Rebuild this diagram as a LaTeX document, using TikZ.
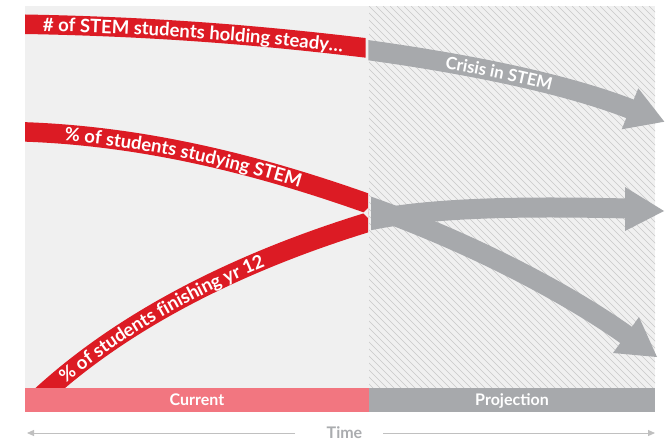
\documentclass[tikz,border=0pt]{standalone}
\usepackage{fontspec}
\setmainfont{Lato}
\usetikzlibrary{decorations.text,arrows.meta}
\definecolor{bandred}{RGB}{220,27,36}
\definecolor{pinkbar}{RGB}{242,118,128}
\definecolor{grayarrow}{RGB}{167,169,172}
\definecolor{panelbg}{RGB}{240,240,240}
\definecolor{hatchgray}{RGB}{200,200,200}
\definecolor{timegray}{RGB}{170,172,175}
\definecolor{timeline}{RGB}{192,192,192}
\newcommand\bandfont{\fontsize{18.5}{18.5}\selectfont\bfseries}
\newcommand\crisisfont{\fontsize{17}{17}\selectfont\bfseries}
\begin{document}
\begin{tikzpicture}[x=1pt,y=1pt,
  redband/.style={draw=bandred, line width=19.5pt, line cap=butt},
  grayshaft/.style={draw=grayarrow, line width=20pt, line cap=butt},
  grayhead/.style={fill=grayarrow},
  barlabel/.style={inner sep=0pt, text=white, font=\fontsize{16}{16}\selectfont\bfseries, text height=11.5pt, text depth=0pt},
  timetext/.style={inner sep=0pt, text=timegray, font=\fontsize{16}{16}\selectfont\bfseries, text height=11.5pt, text depth=0pt},
  timeaxis/.style={draw=timeline, line width=1pt, -{Triangle[length=7pt,width=6pt]}}
]
\useasboundingbox (0,0) rectangle (671,-442);
\fill[white] (0,0) rectangle (671,-442);
% panels
\fill[panelbg] (25,-6) rectangle (655,-388);
\begin{scope}
  \clip (369,-6) rectangle (655,-388);
  \foreach \k in {0,...,100} {
    \draw[hatchgray, line width=0.5pt] ({369-385+7*\k},-6) -- ({369+7*\k},-391);
  }
\end{scope}

% red band 1
\begin{scope}
  \clip (25,-6) rectangle (365.5,-388);
  \draw[redband] (10,-24) .. controls (150,-26) and (260,-35) .. (375,-49);
  \path[decorate, decoration={text along path, raise=-6.7pt, text align={left indent=33pt},
    text={|\bandfont\color{white}|{\#} of STEM students holding steady{…}}}]
    (10,-24) .. controls (150,-26) and (260,-35) .. (375,-49);
\end{scope}

% red bands 2 and 3
\begin{scope}
  \clip (25,-6) rectangle (368,-388);
  \draw[redband] (10,-131.5) .. controls (140,-134) and (260,-165) .. (372,-205);
  \draw[redband] (39,-398) .. controls (134,-310) and (260,-255) .. (372,-221);
  \fill[panelbg] (363,-213) -- (368.5,-207.5) -- (368.5,-218.5) -- cycle;
  \path[decorate, decoration={text along path, raise=-6.7pt, text align={left indent=55pt},
    text={|\bandfont\color{white}|{\%} of students studying STEM}}]
    (10,-131.5) .. controls (140,-134) and (260,-165) .. (372,-205);
  \path[decorate, decoration={text along path, raise=-6.7pt, text align={left indent=30pt},
    text={|\bandfont\color{white}|{\%} of students finishing yr 12}}]
    (39,-398) .. controls (134,-310) and (260,-255) .. (372,-221);
\end{scope}

% gray arrow 1 (crisis)
\begin{scope}
  \clip (368.3,-6) rectangle (671,-442);
  \draw[grayshaft] (350,-47.7) .. controls (500,-67.5) and (585,-91) .. (633,-110);
  \path[decorate, decoration={text along path, raise=-6.3pt, text align={left indent=97pt},
    text={|\crisisfont\color{white}|Crisis in STEM}}]
    (350,-47.7) .. controls (500,-67.5) and (585,-91) .. (633,-110);
\end{scope}
\fill[grayhead] (621.7,-129.3) -- (638.3,-88.3) -- (664.3,-121.7) -- cycle;

% gray arrows A and B
\begin{scope}
  \clip (371,-6) rectangle (671,-442);
  \draw[grayshaft] (350,-225) .. controls (415,-207) and (520,-206) .. (628,-208.5);
  \draw[grayshaft] (350,-200) .. controls (450,-233) and (560,-287.5) .. (629,-337);
\end{scope}
\fill[grayhead] (625,-187) -- (625,-231) -- (664,-211) -- cycle;
\fill[grayhead] (613,-353) -- (639,-317) -- (657,-357) -- cycle;

% bottom bars
\fill[pinkbar] (25,-388) rectangle (369,-412);
\fill[grayarrow] (369,-388) rectangle (655,-412);
\node[barlabel] (current) at (197,-400) {Current};
\node[barlabel] (projection) at (512,-400) {Projection};

% time axis
\node[timetext] (time) at (344.5,-432.5) {Time};
\coordinate (tlstart) at (295,-433);
\coordinate (tlend) at (27,-433);
\coordinate (trstart) at (383,-433);
\coordinate (trend) at (655,-433);
\draw[timeaxis] (tlstart) -- (tlend);
\draw[timeaxis] (trstart) -- (trend);
\end{tikzpicture}
\end{document}
